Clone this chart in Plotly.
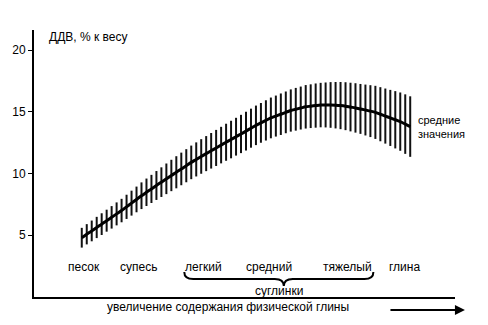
import plotly.graph_objects as go

# ---- data ----
# hatch / mean positions (index along the "physical clay" axis)
pos = list(range(67))
mean_vals = [4.80, 5.08, 5.35, 5.63, 5.90, 6.18, 6.45, 6.73, 7.00, 7.30,
             7.60, 7.90, 8.20, 8.48, 8.75, 9.03, 9.30, 9.57, 9.84, 10.10,
             10.37, 10.63, 10.90, 11.14, 11.38, 11.61, 11.84, 12.07, 12.30, 12.53,
             12.75, 12.98, 13.20, 13.43, 13.67, 13.90, 14.10, 14.30, 14.50, 14.65,
             14.80, 14.95, 15.10, 15.20, 15.30, 15.40, 15.45, 15.50, 15.54, 15.55,
             15.55, 15.53, 15.50, 15.45, 15.38, 15.31, 15.23, 15.14, 15.05, 14.95,
             14.80, 14.65, 14.50, 14.35, 14.20, 14.00, 13.80]
spread = [0.80,
          0.82, 0.84, 0.86, 0.88, 0.89, 0.91, 0.93, 0.95,
          0.98, 1.01, 1.04, 1.08, 1.11, 1.14, 1.17, 1.20, 1.24, 1.27, 1.30,
          1.32, 1.34, 1.36, 1.38, 1.40, 1.42, 1.44, 1.46, 1.48, 1.50, 1.52, 1.53, 1.55,
          1.57, 1.58, 1.60, 1.61, 1.63, 1.65, 1.66, 1.68, 1.69, 1.71, 1.73, 1.74, 1.76,
          1.77, 1.79, 1.80, 1.82,
          1.85, 1.88, 1.91, 1.94, 1.97, 2.00, 2.02,
          2.06, 2.10, 2.15, 2.19, 2.23, 2.27, 2.32, 2.36, 2.41, 2.45]
soil_names = ["песок", "супесь", "легкий", "средний", "тяжелый", "глина"]
soil_pos = [0.4, 11.4, 24.4, 37.6, 53.4, 64.8]
y_ticks = [5, 10, 15, 20]

# ---- layout geometry ----
W, H = 488, 325
L, R, T, B = 32, 33, 30, 28
PW, PH = W - L - R, H - T - B
def px(x):
    return (x - L) / PW
def py(y):
    return (H - B - y) / PH

FONT = "Liberation Sans, Arial, sans-serif"
TXT = dict(size=12, color="black", family=FONT)

fig = go.Figure()
fig.add_trace(go.Scatter(
    x=pos, y=mean_vals, mode="markers",
    marker=dict(size=1, color="rgba(0,0,0,0)"),
    error_y=dict(type="data", array=spread, symmetric=True,
                 width=0, thickness=2, color="#111111"),
    hoverinfo="skip", showlegend=False))
fig.add_trace(go.Scatter(
    x=pos, y=mean_vals, mode="lines",
    line=dict(color="black", width=3, shape="spline"),
    showlegend=False))

ann = []
for name, xp in zip(soil_names, soil_pos):
    ann.append(dict(x=xp, y=py(267), xref="x", yref="paper", text=name,
                    xanchor="center", yanchor="middle",
                    showarrow=False, font=TXT))
ann.append(dict(x=px(278), y=py(291), xref="paper", yref="paper", text="суглинки",
                xanchor="center", yanchor="middle", showarrow=False, font=TXT))
ann.append(dict(x=px(227), y=py(307), xref="paper", yref="paper",
                text="увеличение содержания физической глины",
                xanchor="center", yanchor="middle", showarrow=False, font=TXT))
ann.append(dict(x=px(45), y=py(37), xref="paper", yref="paper", xanchor="left",
                yanchor="middle", text="ДДВ, % к весу", showarrow=False, font=TXT))
ann.append(dict(x=px(416), y=py(127), xref="paper", yref="paper", xanchor="left",
                yanchor="middle", align="left", text="средние<br>значения",
                showarrow=False, font=dict(size=11, color="black", family=FONT)))
ann.append(dict(x=px(465), y=py(310), xref="paper", yref="paper", text="",
                showarrow=True, ax=-76, ay=0, arrowhead=2, arrowsize=1,
                arrowwidth=2, arrowcolor="black"))

brace = (f"M {px(183)},{py(272)} Q {px(183)},{py(279)} {px(192)},{py(279)} "
         f"L {px(274)},{py(279)} Q {px(283)},{py(279)} {px(283)},{py(286)} "
         f"Q {px(283)},{py(279)} {px(292)},{py(279)} "
         f"L {px(364)},{py(279)} Q {px(373)},{py(279)} {px(373)},{py(272)}")

fig.update_layout(
    width=W, height=H,
    margin=dict(l=L, r=R, t=T, b=B, pad=0),
    paper_bgcolor="white", plot_bgcolor="white",
    xaxis=dict(range=[-9.6, 75], showline=True, linewidth=2, linecolor="black",
               showgrid=False, zeroline=False, showticklabels=False, ticks=""),
    yaxis=dict(range=[0, PH / 12.35], showline=True, linewidth=2, linecolor="black",
               showgrid=False, zeroline=False, tickvals=y_ticks,
               ticks="outside", ticklen=4, tickwidth=1, tickcolor="black",
               tickfont=TXT),
    annotations=ann,
    shapes=[dict(type="path", path=brace, xref="paper", yref="paper",
                 line=dict(color="black", width=2))],
)

fig.write_html("out.html")
